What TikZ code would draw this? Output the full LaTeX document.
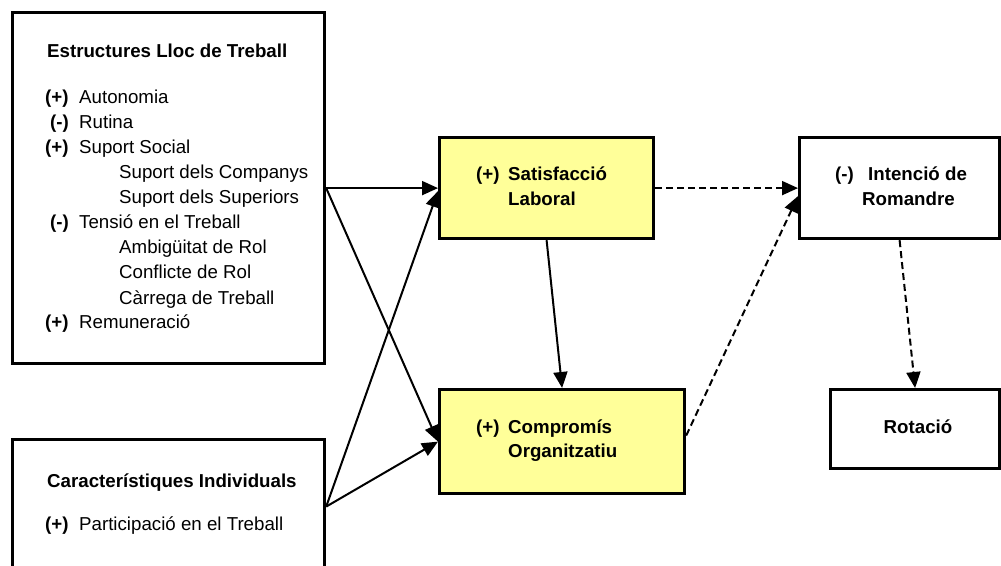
\documentclass[tikz,border=0pt]{standalone}
\usepackage{fontspec}
\setmainfont{Liberation Sans}
\usetikzlibrary{arrows.meta}
\definecolor{boxyellow}{HTML}{FFFF99}
\begin{document}
\begin{tikzpicture}[x=1pt,y=-1pt,
  box/.style={draw=black,line width=3.2pt,rectangle,inner sep=0pt,anchor=north west},
  ybox/.style={box,fill=boxyellow},
  txt/.style={inner sep=0pt,anchor=base west,font=\fontsize{18.7}{22}\selectfont},
  btxt/.style={txt,font=\fontsize{18.7}{22}\selectfont\bfseries},
  arr/.style={line width=2pt,-{Triangle[length=16pt,width=14pt]}},
  darr/.style={arr,dash pattern=on 7pt off 4pt}]
\useasboundingbox (0,0) rectangle (1001,565);
\begin{scope}
\clip (0,0) rectangle (1001,565);
% boxes
\node[box,minimum width=312pt,minimum height=351pt] (b1) at (11,11) {};
\node[box,minimum width=312pt,minimum height=134pt] (b2) at (11,438) {};
\node[ybox,minimum width=214pt,minimum height=101pt] (sat) at (438,136) {};
\node[ybox,minimum width=245pt,minimum height=104pt] (comp) at (438,388) {};
\node[box,minimum width=200pt,minimum height=101pt] (int) at (798,136) {};
\node[box,minimum width=169pt,minimum height=79pt] (rot) at (829,388) {};
\end{scope}
% box 1 texts
\node[btxt] (t1) at (47,57) {Estructures Lloc de Treball};
\node[btxt] (s1) at (45,103) {(+)}; \node[txt] (l1) at (79,103) {Autonomia};
\node[btxt] (s2) at (50,128) {(-)}; \node[txt] (l2) at (79,128) {Rutina};
\node[btxt] (s3) at (45,153) {(+)}; \node[txt] (l3) at (79,153) {Suport Social};
\node[txt] (l4) at (119,178) {Suport dels Companys};
\node[txt] (l5) at (119,203) {Suport dels Superiors};
\node[btxt] (s6) at (50,228) {(-)}; \node[txt] (l6) at (79,228) {Tensió en el Treball};
\node[txt] (l7) at (119,253) {Ambigüitat de Rol};
\node[txt] (l8) at (119,278) {Conflicte de Rol};
\node[txt] (l9) at (119,304) {Càrrega de Treball};
\node[btxt] (s10) at (45,328) {(+)}; \node[txt] (l10) at (79,328) {Remuneració};
% box 2 texts
\node[btxt] (t2) at (47,487) {Característiques Individuals};
\node[btxt] (s11) at (45,530) {(+)}; \node[txt] (l11) at (79,530) {Participació en el Treball};
% central
\node[btxt] (ssat) at (476,180) {(+)}; \node[btxt] (lsat1) at (508,180) {Satisfacció};
\node[btxt] (lsat2) at (508,205) {Laboral};
\node[btxt] (scomp) at (476,433) {(+)}; \node[btxt] (lcomp1) at (508,433) {Compromís};
\node[btxt] (lcomp2) at (508,457) {Organitzatiu};
\node[btxt] (sint) at (835,180) {(-)}; \node[btxt] (lint1) at (868,180) {Intenció de};
\node[btxt] (lint2) at (862,205) {Romandre};
\node[btxt,anchor=base] (lrot) at (918,433) {Rotació};
% connectors
\draw[arr] (b1.east) -- (sat.west);
\draw[arr] (b1.east) -- (comp.west);
\draw[arr] (b2.east) -- ([yshift=-3pt]sat.west);
\draw[arr] (b2.east) -- (comp.west);
\draw[arr] (sat.south) -- (comp.north);
\draw[darr] (sat.east) -- (int.west);
\draw[darr] ([yshift=6pt]comp.east) -- ([yshift=-8pt]int.west);
\draw[darr] (int.south) -- (rot.north);
\end{tikzpicture}
\end{document}
